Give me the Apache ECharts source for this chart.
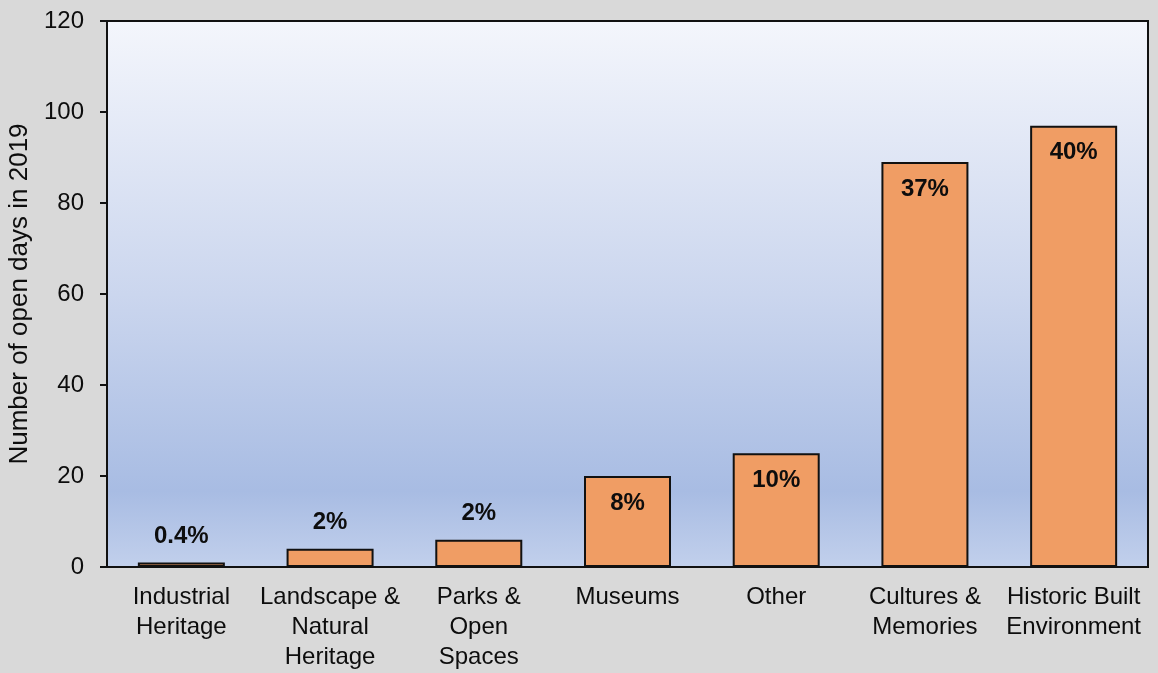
<!DOCTYPE html>
<html>
<head>
<meta charset="utf-8">
<script src="https://cdn.jsdelivr.net/npm/echarts@6/dist/echarts.min.js"></script>
<style>
html,body{margin:0;padding:0;background:#d9d9d9;}
#c{width:1158px;height:673px;}
</style>
</head>
<body>
<div id="c"></div>
<script>
const categories = ['Industrial\nHeritage', 'Landscape &\nNatural\nHeritage', 'Parks &\nOpen\nSpaces', 'Museums', 'Other', 'Cultures &\nMemories', 'Historic Built\nEnvironment'];
const openDays = [1, 4, 6, 20, 25, 89, 97];
const shareLabels = ['0.4%', '2%', '2%', '8%', '10%', '37%', '40%'];
const yMin = 0, yMax = 120, yStep = 20;
const yTitle = 'Number of open days in 2019';

const chart = echarts.init(document.getElementById('c'), null, {renderer: 'canvas'});
const FONT = '"Liberation Sans", Arial, sans-serif';

const seriesData = openDays.map((v, i) => {
  const inside = v >= 15;
  return {
    value: v,
    label: {
      show: true,
      formatter: shareLabels[i],
      position: inside ? 'insideTop' : 'top',
      distance: inside ? 15 : 14,
      fontFamily: FONT,
      fontWeight: 'bold',
      fontSize: 24,
      color: '#0d0d0d'
    }
  };
});

chart.setOption({
  backgroundColor: '#d9d9d9',
  animation: false,
  grid: {
    left: 107, top: 21, right: 10, bottom: 106,
    outerBoundsMode: 'none',
    containLabel: false,
    show: true,
    borderColor: '#111',
    borderWidth: 2,
    backgroundColor: {
      type: 'linear', x: 0, y: 0, x2: 0, y2: 1,
      colorStops: [
        {offset: 0, color: '#f4f6fc'},
        {offset: 0.5, color: '#cbd6ee'},
        {offset: 0.86, color: '#a8bce3'},
        {offset: 1, color: '#c2d0ec'}
      ]
    }
  },
  xAxis: {
    type: 'category',
    data: categories,
    axisLine: {show: true, lineStyle: {color: '#111', width: 2}},
    axisTick: {show: false},
    axisLabel: {
      interval: 0,
      margin: 15,
      fontFamily: FONT,
      fontSize: 24,
      lineHeight: 30,
      color: '#0d0d0d'
    }
  },
  yAxis: {
    type: 'value',
    min: yMin, max: yMax, interval: yStep,
    name: yTitle,
    nameLocation: 'middle',
    nameGap: 68,
    nameTextStyle: {fontFamily: FONT, fontSize: 26, color: '#0d0d0d'},
    axisLine: {show: true, lineStyle: {color: '#111', width: 2}},
    axisTick: {show: true, inside: false, length: 7, lineStyle: {color: '#111', width: 2}},
    splitLine: {show: false},
    axisLabel: {
      margin: 23,
      fontFamily: FONT,
      fontSize: 24,
      color: '#0d0d0d'
    }
  },
  series: [{
    type: 'bar',
    data: seriesData,
    barWidth: '58.5%',
    itemStyle: {color: '#f09d64', borderColor: '#111', borderWidth: 2}
  }]
});
</script>
</body>
</html>
